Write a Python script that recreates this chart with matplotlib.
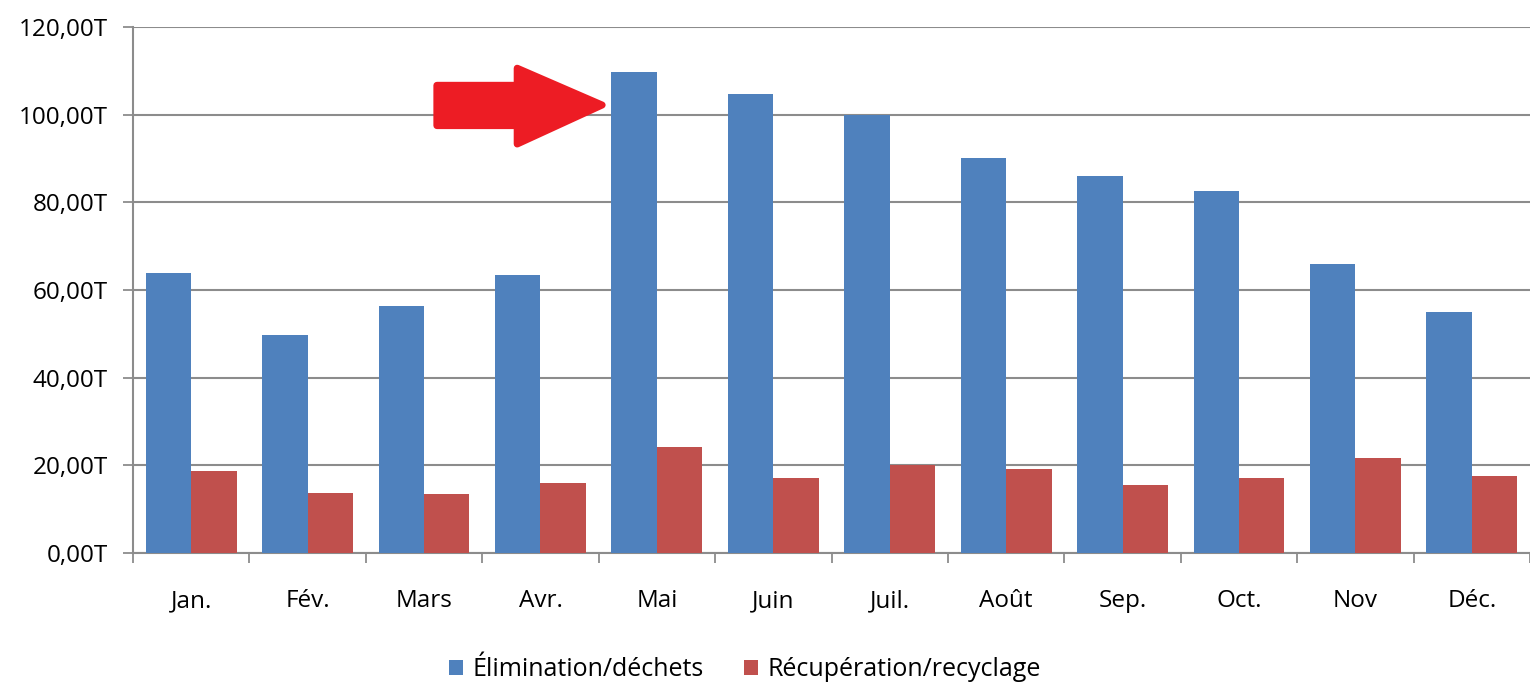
import numpy as np
import matplotlib.pyplot as plt
from matplotlib.patches import Polygon
from matplotlib.ticker import FuncFormatter

plt.rcParams['font.family'] = ['Open Sans', 'DejaVu Sans']

mois = ['Jan.', 'Fév.', 'Mars', 'Avr.', 'Mai', 'Juin', 'Juil.', 'Août', 'Sep.', 'Oct.', 'Nov', 'Déc.']
elimination = [63.9, 49.7, 56.4, 63.4, 109.7, 104.7, 99.9, 90.1, 86.0, 82.6, 65.9, 55.0]
recuperation = [18.6, 13.6, 13.5, 16.0, 24.2, 17.1, 20.1, 19.2, 15.5, 17.1, 21.6, 17.6]

fig = plt.figure(figsize=(15.3, 6.83), dpi=100)
ax = fig.add_axes([133/1530, 130/683, 1 - 133/1530, 526/683])

x = np.arange(len(mois))
w = 0.39
ax.bar(x - w, elimination, w, align='edge', color='#4F81BD', label='Élimination/déchets', zorder=3)
ax.bar(x, recuperation, w, align='edge', color='#C0504D', label='Récupération/recyclage', zorder=3)

ax.set_xlim(-0.5, 11.42)
ax.set_ylim(0, 120)
ax.set_yticks(np.arange(0, 121, 20))
ax.yaxis.set_major_formatter(FuncFormatter(lambda v, p: f'{v:.2f}'.replace('.', ',') + 'T'))
ax.grid(axis='y', color='#8c8c8c', linewidth=1.5, zorder=0)

ax.set_xticks(x)
ax.set_xticklabels(mois)
ax.set_xticks(np.arange(-0.5, 12, 1), minor=True)
ax.tick_params(axis='x', which='major', length=0, pad=26, labelsize=17.5)
ax.tick_params(axis='x', which='minor', length=7, width=1.3, color='#8c8c8c', direction='out')
ax.tick_params(axis='y', length=7, width=1.3, color='#8c8c8c', pad=11, labelsize=17.5)

for s in ['top', 'right']:
    ax.spines[s].set_visible(False)
for s in ['left', 'bottom']:
    ax.spines[s].set_color('#8c8c8c')
    ax.spines[s].set_linewidth(1.5)

# flèche rouge vers mai
arrow = [(2.11, 106.7), (2.80, 106.7), (2.80, 110.6), (3.53, 102.2),
         (2.80, 93.3), (2.80, 97.5), (2.11, 97.5)]
ax.add_patch(Polygon(arrow, closed=True, facecolor='#ED1C24', edgecolor='#ED1C24',
                     linewidth=5, joinstyle='round', zorder=5, clip_on=False))

fig.legend(loc='center', bbox_to_anchor=(745/1530, 1 - 670/683), ncol=2, frameon=False,
           fontsize=18, handlelength=0.55, handleheight=0.55, handletextpad=0.4, columnspacing=1.6)

fig.savefig('out.png', dpi=100)
